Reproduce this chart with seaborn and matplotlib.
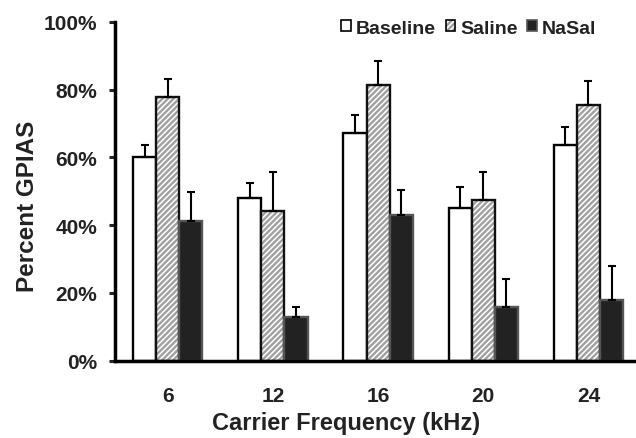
import pandas as pd
import seaborn as sns
import matplotlib.pyplot as plt
from matplotlib.colors import to_rgba
from matplotlib.ticker import PercentFormatter
from matplotlib.patches import Patch

# values (percent GPIAS, upper error bar height)
freqs = ['6', '12', '16', '20', '24']
groups = ['Baseline', 'Saline', 'NaSal']
baseline = [60.1, 47.9, 67.1, 45.0, 63.6]
saline = [77.8, 44.1, 81.3, 47.4, 75.4]
nasal = [41.3, 12.8, 43.0, 16.0, 17.9]
baseline_err = [3.5, 4.6, 5.5, 6.4, 5.5]
saline_err = [5.3, 11.7, 7.0, 8.3, 7.2]
nasal_err = [8.6, 3.1, 7.4, 8.1, 10.1]

df = pd.DataFrame({
    'freq': freqs * 3,
    'group': [g for g in groups for _ in freqs],
    'value': baseline + saline + nasal,
    'err': baseline_err + saline_err + nasal_err,
})

sns.set_style('white')
plt.rcParams['font.family'] = ['Liberation Sans', 'DejaVu Sans']
plt.rcParams['font.weight'] = 'bold'
plt.rcParams['hatch.linewidth'] = 1.7
txt = '#222222'
hatch_grey = '#a0a0a0'


def grey_hatch(p):
    # hatch lines follow the edge colour by default, we want them lighter
    if hasattr(p, 'set_hatchcolor'):
        p.set_hatchcolor(hatch_grey)
    else:
        p._hatch_color = to_rgba(hatch_grey)


fig = plt.figure(figsize=(6.36, 4.39), dpi=100)
ax = fig.add_axes([0.181, 0.176, 0.827, 0.772])

sns.barplot(data=df, x='freq', y='value', hue='group', order=freqs,
            hue_order=groups, width=0.66, errorbar=None, ax=ax,
            palette=['white', 'white', '#222222'], legend=False)

# bar looks: face, edge, hatch
fills = {'Baseline': ('white', 'black', None),
         'Saline': ('white', '#111111', '//////'),
         'NaSal': ('#222222', '#555555', None)}
for container, g in zip(ax.containers, groups):
    fc, ec, h = fills[g]
    sub = df[df['group'] == g]
    xs = []
    for bar in container:
        bar.set_facecolor(fc)
        bar.set_edgecolor(ec)
        bar.set_linewidth(1.7)
        if h:
            bar.set_hatch(h)
            grey_hatch(bar)
        xs.append(bar.get_x() + bar.get_width() / 2)
    ax.errorbar(xs, sub['value'], yerr=[[0] * len(sub), sub['err']],
                fmt='none', ecolor='black', elinewidth=1.5, capsize=3,
                capthick=1.5, zorder=1)

ax.set_ylim(0, 100)
ax.set_xlim(-0.5, 4.5)
ax.set_yticks([0, 20, 40, 60, 80, 100])
ax.yaxis.set_major_formatter(PercentFormatter(decimals=0))
sns.despine(ax=ax)
for s in ['left', 'bottom']:
    ax.spines[s].set_linewidth(2.5)
    ax.spines[s].set_color('black')
ax.tick_params(axis='y', length=4, width=2.2, direction='out', pad=9,
               labelsize=15, labelcolor=txt, left=True)
ax.tick_params(axis='x', length=0, pad=18, labelsize=15, labelcolor=txt)
for lab in ax.get_xticklabels() + ax.get_yticklabels():
    lab.set_fontweight('bold')

ax.set_xlabel('Carrier Frequency (kHz)', fontsize=17, fontweight='bold',
              color=txt)
ax.set_ylabel('Percent GPIAS', fontsize=17.5, fontweight='bold', color=txt)
ax.xaxis.set_label_coords(0.44, -0.149)
ax.yaxis.set_label_coords(-0.145, 0.459)

handles = [Patch(facecolor=fills[g][0], edgecolor='black' if g != 'NaSal' else fills[g][1],
                 hatch=fills[g][2], linewidth=1.2, label=g) for g in groups]
leg = ax.legend(handles=handles, loc='center right', bbox_to_anchor=(0.915, 0.981),
                ncol=3, frameon=False, handlelength=0.5, handleheight=0.5,
                handletextpad=0.25, columnspacing=0.5, borderaxespad=0, borderpad=0,
                prop={'weight': 'bold', 'size': 14}, labelcolor=txt)
for p in leg.get_patches():
    if p.get_hatch():
        grey_hatch(p)

fig.savefig('out.png', dpi=100)
